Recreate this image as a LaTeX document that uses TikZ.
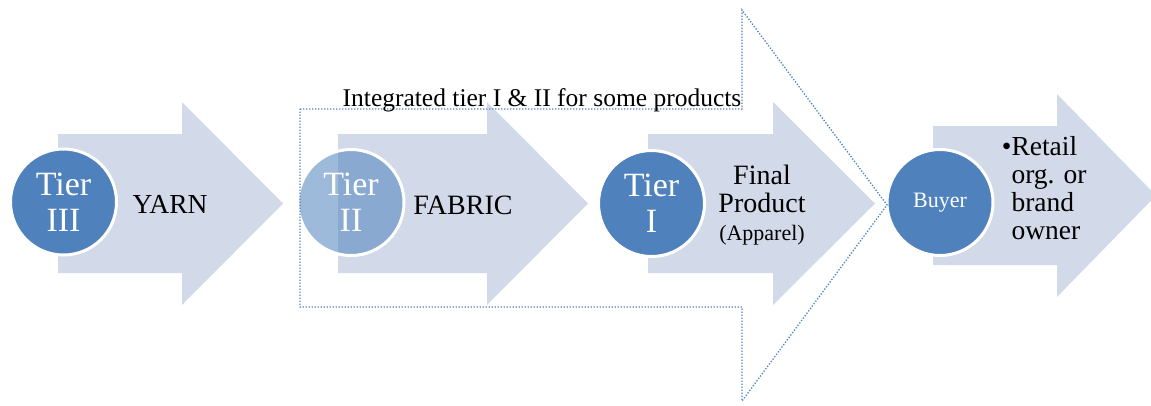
\documentclass[tikz,border=0pt]{standalone}
\usepackage{fontspec}
\setmainfont{Liberation Serif}
\usetikzlibrary{positioning}
\definecolor{tierblue}{HTML}{4F81BD}
\definecolor{arrowgrey}{HTML}{D2DAE9}

\begin{document}
\begin{tikzpicture}[x=1pt,y=-1pt,
    arrowbody/.style={fill=arrowgrey},
    tiercircle/.style={circle,fill=tierblue,draw=white,line width=3pt,minimum size=106pt,
      inner sep=0pt,text=white,align=center,font=\fontsize{34}{36}\selectfont},
    stagetext/.style={align=center,font=\fontsize{28}{29}\selectfont},
    groupline/.style={draw=tierblue,line width=1.3pt,dash pattern=on 1.3pt off 1.7pt}]
  \useasboundingbox (0,0) rectangle (1151,405);
  \clip (0,0) rectangle (1151,405);
  % block arrows
  \foreach \xa/\xb/\xc/\dy in {58/182/283/0,338/487/588/0,648/773/875/0,933/1057/1156/8}
    \fill[arrowbody,yshift=\dy] (\xa,134) -- (\xb,134) -- (\xb,102) -- (\xc,203.5)
      -- (\xb,305) -- (\xb,273) -- (\xa,273) -- cycle;
  % tiers
  \node[tiercircle] (tier3) at (63.5,202) {Tier\\III};
  \node[tiercircle,fill opacity=0.55,text opacity=1] (tier2) at (351,202.5) {Tier\\II};
  \node[tiercircle] (tier1) at (651.5,203.5) {Tier\\I};
  \node[tiercircle,font=\fontsize{22}{24}\selectfont] (buyer) at (940,202.5) {Buyer};
  % what each tier makes
  \node[stagetext,font=\fontsize{27.5}{29}\selectfont] (yarn) at (170,204) {YARN};
  \node[stagetext] (fabric) at (463,205) {FABRIC};
  \node[stagetext,font=\fontsize{28}{28}\selectfont] (final) at (762,205)
    {Final\\Product\\{\fontsize{22}{26}\selectfont(Apparel)}};
  \node[align=left,anchor=west,font=\fontsize{27.5}{28}\selectfont] (retail) at (1008,188)
    {\llap{\textbullet}Retail\\org. or\\brand\\owner};
  % integrated tier I & II
  \draw[groupline] (300,109) -- (742,109) -- (742,10) -- (887,205) -- (742,401)
    -- (742,307) -- (300,307) -- cycle;
  \node[anchor=base,font=\fontsize{25.5}{27}\selectfont] (integrated) at (542,106)
    {Integrated tier I \& II for some products};
\end{tikzpicture}
\end{document}
